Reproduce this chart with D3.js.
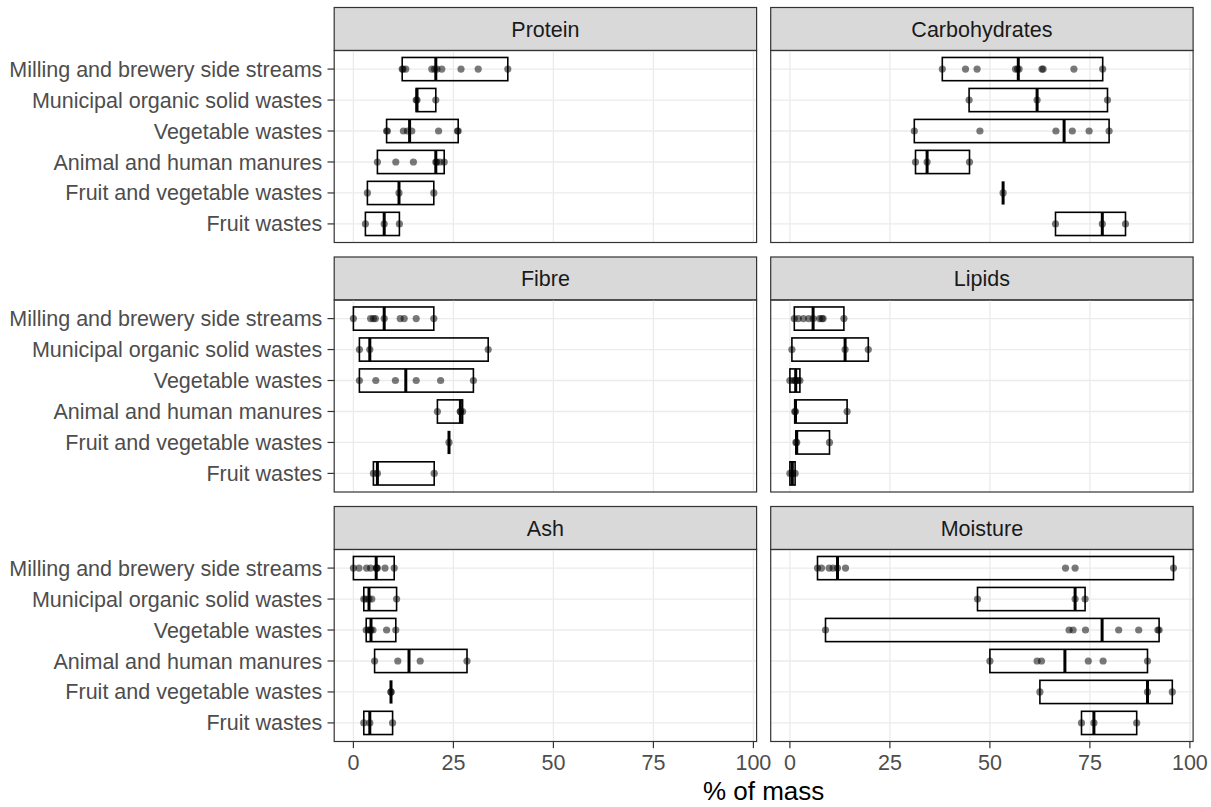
<!DOCTYPE html>
<html>
<head>
<meta charset="utf-8">
<script src="https://cdn.jsdelivr.net/npm/d3@7/dist/d3.min.js"></script>
<style>
  html, body { margin: 0; padding: 0; background: #fff; }
  svg { display: block; font-family: "Liberation Sans", Arial, sans-serif; }
</style>
</head>
<body>
<div id="chart"></div>
<script>
// Waste stream categories (top to bottom)
const categories = [
  "Milling and brewery side streams",
  "Municipal organic solid wastes",
  "Vegetable wastes",
  "Animal and human manures",
  "Fruit and vegetable wastes",
  "Fruit wastes"
];

// Facet titles, in reading order
const nutrients = ["Protein", "Carbohydrates", "Fibre", "Lipids", "Ash", "Moisture"];

// Reported composition values (% of mass), one list per category
const protein = [
  [12.2, 12.4, 13.1, 19.6, 20.3, 20.9, 22.1, 26.9, 31.2, 38.6],
  [15.7, 15.9, 20.6],
  [8.3, 8.5, 12.5, 13.5, 14.6, 21.3, 26.0, 26.2],
  [6.0, 10.6, 15.0, 20.6, 20.8, 21.6, 22.7],
  [3.5, 11.4, 20.1],
  [3.0, 7.7, 11.5]
];
const carbohydrates = [
  [38.1, 43.9, 46.8, 56.4, 56.9, 57.3, 63.0, 63.3, 71.0, 78.2],
  [44.8, 61.8, 79.4],
  [31.1, 47.5, 66.5, 70.6, 74.8, 79.8],
  [31.4, 34.3, 44.9],
  [53.3],
  [66.4, 78.1, 83.9]
];
const fibre = [
  [0.0, 4.3, 5.0, 5.5, 7.7, 11.7, 12.7, 15.7, 20.1],
  [1.5, 4.1, 33.7],
  [1.5, 5.6, 10.5, 15.7, 21.8, 30.0],
  [21.0, 26.7, 26.8, 27.3],
  [23.9],
  [5.0, 6.0, 20.2]
];
const lipids = [
  [1.1, 2.1, 3.4, 4.7, 5.8, 7.4, 8.0, 8.3, 13.5],
  [0.5, 13.8, 19.6],
  [0.0, 0.9, 1.3, 1.6, 2.0, 2.5],
  [1.2, 1.4, 14.3],
  [1.5, 1.7, 9.9],
  [0.0, 0.6, 1.3]
];
const ash = [
  [0.0, 1.4, 3.3, 4.3, 5.7, 5.8, 6.0, 7.9, 10.2],
  [2.6, 3.1, 3.9, 4.6, 10.8],
  [3.2, 3.8, 4.2, 4.4, 4.9, 8.3, 10.6],
  [5.3, 11.1, 16.7, 28.4],
  [9.4, 9.4],
  [2.6, 4.1, 9.8]
];
const moisture = [
  [6.9, 7.9, 9.8, 10.8, 11.9, 13.9, 68.9, 71.3, 95.9],
  [46.9, 71.3, 73.8],
  [8.9, 69.8, 70.8, 73.9, 82.2, 87.2, 92.0, 92.3],
  [50.0, 61.8, 62.9, 74.6, 78.3, 89.4],
  [62.5, 89.4, 95.6],
  [72.9, 76.0, 86.7]
];

const xTicks = [0, 25, 50, 75, 100];
const xTitle = "% of mass";

const series = [protein, carbohydrates, fibre, lipids, ash, moisture];
const facets = nutrients.map((name, i) => ({
  name,
  groups: categories.map((cat, j) => {
    const v = series[i][j];
    return { cat, values: v, min: d3.min(v), med: d3.median(v), max: d3.max(v) };
  })
}));

// Layout
const W = 1211, H = 807;
const colLeft = [334.2, 770.7];
const panelW = 422.4;
const rowTop = [7.5, 257, 506.5];
const stripH = 43;
const panelH = 192;
const tickLen = 6.7;
const axisFont = 21.5;

const svg = d3.select("#chart").append("svg")
  .attr("width", W).attr("height", H);

const dark = "#333333";

facets.forEach((f, i) => {
  const col = i % 2, row = Math.floor(i / 2);
  const x0 = colLeft[col];
  const y0 = rowTop[row] + stripH;

  const x = d3.scaleLinear().domain([-4.8, 100.8]).range([0, panelW]);
  const y = d3.scalePoint().domain(categories).range([0, panelH]).padding(0.6);
  const boxH = y.step() * 0.75;

  // strip
  const strip = svg.append("g").attr("transform", `translate(${x0},${rowTop[row]})`);
  strip.append("rect")
    .attr("x", 0).attr("y", 0).attr("width", panelW).attr("height", stripH)
    .attr("fill", "#D9D9D9").attr("stroke", dark).attr("stroke-width", 1.2);
  strip.append("text")
    .attr("x", panelW / 2).attr("y", stripH / 2).attr("dy", "0.35em")
    .attr("text-anchor", "middle").attr("font-size", axisFont)
    .attr("fill", "#1A1A1A").text(f.name);

  const g = svg.append("g").attr("transform", `translate(${x0},${y0})`);

  // grid
  g.append("g").selectAll("line").data(xTicks).join("line")
    .attr("x1", d => x(d)).attr("x2", d => x(d))
    .attr("y1", 0).attr("y2", panelH)
    .attr("stroke", "#EBEBEB").attr("stroke-width", 1.3);
  g.append("g").selectAll("line").data(categories).join("line")
    .attr("x1", 0).attr("x2", panelW)
    .attr("y1", d => y(d)).attr("y2", d => y(d))
    .attr("stroke", "#EBEBEB").attr("stroke-width", 1.3);

  // crossbars: min–max box with median line
  const bars = g.append("g").selectAll("g").data(f.groups).join("g");
  bars.append("rect")
    .attr("x", d => x(d.min)).attr("y", d => y(d.cat) - boxH / 2)
    .attr("width", d => x(d.max) - x(d.min)).attr("height", boxH)
    .attr("fill", "none").attr("stroke", "#000").attr("stroke-width", 1.6);
  bars.append("line")
    .attr("x1", d => x(d.med)).attr("x2", d => x(d.med))
    .attr("y1", d => y(d.cat) - boxH / 2).attr("y2", d => y(d.cat) + boxH / 2)
    .attr("stroke", "#000").attr("stroke-width", 3);

  // individual observations
  g.append("g").selectAll("circle")
    .data(f.groups.flatMap(d => d.values.map(v => ({ cat: d.cat, v }))))
    .join("circle")
    .attr("cx", d => x(d.v)).attr("cy", d => y(d.cat)).attr("r", 3.6)
    .attr("fill", "#000").attr("fill-opacity", 0.52);

  // panel border
  g.append("rect")
    .attr("x", 0).attr("y", 0).attr("width", panelW).attr("height", panelH)
    .attr("fill", "none").attr("stroke", dark).attr("stroke-width", 1.2);

  // y axis on left column
  if (col === 0) {
    const ya = g.append("g");
    ya.selectAll("line").data(categories).join("line")
      .attr("x1", -tickLen).attr("x2", 0)
      .attr("y1", d => y(d)).attr("y2", d => y(d))
      .attr("stroke", dark).attr("stroke-width", 1.2);
    ya.selectAll("text").data(categories).join("text")
      .attr("x", -tickLen - 5.2).attr("y", d => y(d)).attr("dy", "0.35em")
      .attr("text-anchor", "end").attr("font-size", axisFont)
      .attr("fill", "#4D4D4D").text(d => d);
  }

  // x axis on bottom row
  if (row === 2) {
    const xa = g.append("g").attr("transform", `translate(0,${panelH})`);
    xa.selectAll("line").data(xTicks).join("line")
      .attr("x1", d => x(d)).attr("x2", d => x(d))
      .attr("y1", 0).attr("y2", tickLen)
      .attr("stroke", dark).attr("stroke-width", 1.2);
    xa.selectAll("text").data(xTicks).join("text")
      .attr("x", d => x(d)).attr("y", tickLen + 5.2).attr("dy", "0.76em")
      .attr("text-anchor", "middle").attr("font-size", axisFont)
      .attr("fill", "#4D4D4D").text(d => d);
  }
});

// axis title
svg.append("text")
  .attr("x", (colLeft[0] + colLeft[1] + panelW) / 2)
  .attr("y", 800)
  .attr("text-anchor", "middle").attr("font-size", 26)
  .attr("fill", "#000").text(xTitle);
</script>
</body>
</html>
